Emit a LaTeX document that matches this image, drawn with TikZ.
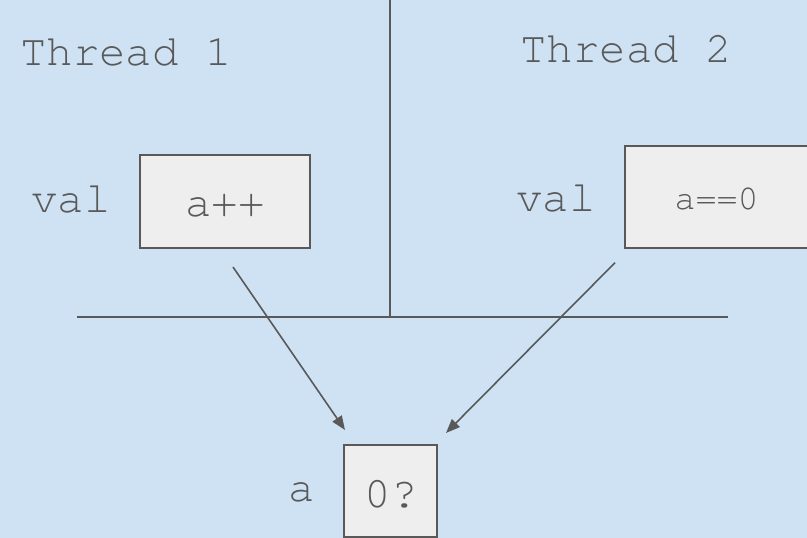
\documentclass[tikz,border=0pt]{standalone}
\usepackage{fontspec}
\setmonofont{TeX Gyre Cursor}
\usetikzlibrary{arrows.meta}
\definecolor{bgblue}{HTML}{CFE2F3}
\definecolor{boxfill}{HTML}{EEEEEE}
\definecolor{ink}{HTML}{595959}
\tikzset{
  label text/.style={inner sep=0pt, anchor=base, text=ink,
    font=\ttfamily\fontsize{44}{44}\selectfont},
  small text/.style={label text, font=\ttfamily\fontsize{35}{35}\selectfont},
  valbox/.style={draw=ink, line width=2pt, fill=boxfill},
  divider/.style={draw=ink, line width=1.8pt},
  flow/.style={draw=ink, line width=1.6pt, -{Triangle[length=14pt,width=11pt]}}
}
\begin{document}
\begin{tikzpicture}[x=1pt, y=-1pt]
  \clip (0,0) rectangle (807,538);
  \fill[bgblue] (0,0) rectangle (807,538);

  % dividing lines between the two threads and shared memory
  \coordinate (vtop) at (390,0);
  \coordinate (vbot) at (390,317);
  \coordinate (hl) at (77,317);
  \coordinate (hr) at (728,317);
  \draw[divider] (vtop) -- (vbot);
  \draw[divider] (hl) -- (hr);

  % thread headings
  \node[label text] (t1) at (126,65.7) {Thread 1};
  \node[label text] (t2) at (626,62.3) {Thread 2};

  % thread-local values
  \draw[valbox] (140,155) rectangle (310,248);
  \node[label text] (inc) at (225,216.7) {a++};
  \node[label text] (val1) at (71,212.7) {val};

  \draw[valbox] (625,146) rectangle (810,248);
  \node[small text] (cmp) at (716.5,209) {a==0};
  \node[label text] (val2) at (556,211.7) {val};

  % shared variable
  \draw[valbox] (344,445) rectangle (437,537);
  \node[label text] (res) at (391,507.3) {0?};
  \node[label text] (avar) at (301.5,501.7) {a};

  % accesses to the shared variable
  \coordinate (s1) at (233,267);
  \coordinate (e1) at (345,430);
  \coordinate (s2) at (615,262.7);
  \coordinate (e2) at (446,433);
  \draw[flow] (s1) -- (e1);
  \draw[flow] (s2) -- (e2);
\end{tikzpicture}
\end{document}
